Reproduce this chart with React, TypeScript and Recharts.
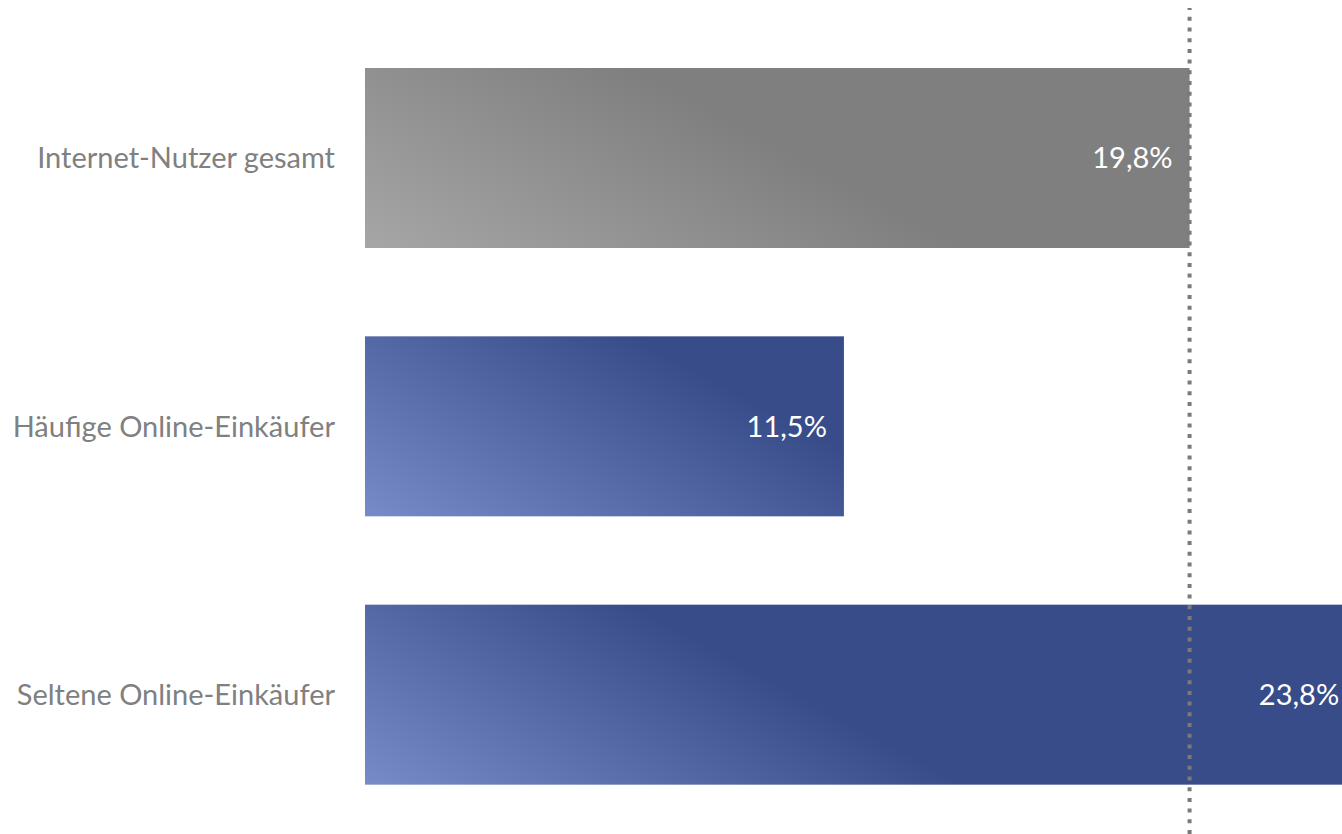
import { Bar, BarChart, LabelList, ReferenceLine, XAxis, YAxis } from "recharts";

const categories = ["Internet-Nutzer gesamt", "Häufige Online-Einkäufer", "Seltene Online-Einkäufer"];
const shares = [19.8, 11.5, 23.8];
const totalShare = 19.8;

// light (bottom-left) -> dark colour of each bar
const barColors = [
  ["#a6a6a6", "#7f7f7f"],
  ["#778bc8", "#384c89"],
  ["#778bc8", "#384c89"],
];

const data = categories.map((name, i) => ({ name, share: shares[i] }));

const FONT = "Lato, 'Open Sans', sans-serif";

function GradientBar(props: any) {
  const { x, y, width, height, index } = props;
  if (!width || !height) return null;
  const [light, dark] = barColors[index] ?? barColors[1];
  const id = `bar-grad-${index}`;
  const x0 = x;
  const y0 = y + height;
  return (
    <g>
      <defs>
        <linearGradient id={id} gradientUnits="userSpaceOnUse" x1={x0} y1={y0} x2={x0 + 137} y2={y0 - 252}>
          <stop offset="0" stopColor={light} />
          <stop offset="1" stopColor={dark} />
        </linearGradient>
      </defs>
      <rect x={x} y={y} width={width} height={height} fill={`url(#${id})`} />
    </g>
  );
}

const formatShare = (v: any) => `${Number(v).toFixed(1).replace(".", ",")}%`;

export default function App() {
  return (
    <div style={{ position: "absolute", left: 0, top: 0, background: "#fff" }}>
      <BarChart
        width={1342}
        height={834}
        data={data}
        layout="vertical"
        margin={{ top: 8, right: 0, bottom: 0, left: 0 }}
      >
        <XAxis type="number" domain={[0, 23.46]} allowDataOverflow hide />
        <YAxis
          type="category"
          dataKey="name"
          width={365}
          axisLine={false}
          tickLine={false}
          tickSize={0}
          tickMargin={30}
          padding={{ top: 16, bottom: 5 }}
          tick={{ fill: "#808080", fontSize: 29, fontFamily: FONT }}
        />
        <Bar dataKey="share" barSize={180} shape={<GradientBar />} isAnimationActive={false}>
          <LabelList
            dataKey="share"
            position="insideRight"
            offset={17}
            formatter={formatShare}
            fill="#ffffff"
            fontSize={29}
            fontFamily={FONT}
          />
        </Bar>
        <ReferenceLine x={totalShare} stroke="#7a7a7a" strokeWidth={4} strokeDasharray="4 6.7" />
      </BarChart>
    </div>
  );
}
